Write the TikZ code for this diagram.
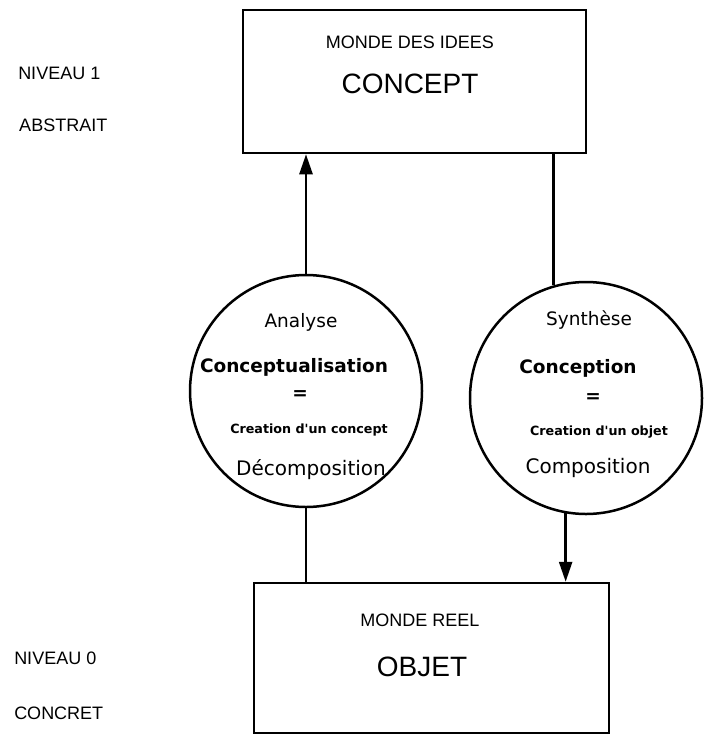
\documentclass[tikz,border=0pt]{standalone}
\usepackage{fontspec}
\setmainfont{Liberation Sans}
\newfontfamily\dv{DejaVu Sans}
\usetikzlibrary{arrows.meta}
\begin{document}
\begin{tikzpicture}[x=1pt,y=-1pt,
  line width=2.5pt,
  boxshape/.style={draw, rectangle, inner sep=0pt},
  circshape/.style={draw, circle, inner sep=0pt, minimum size=232pt},
  boxsmall/.style={inner sep=0pt, font=\fontsize{18}{20}\selectfont},
  boxbig/.style={inner sep=0pt, font=\fontsize{28}{30}\selectfont},
  sidelabel/.style={inner sep=0pt, anchor=west, font=\fontsize{18}{20}\selectfont},
  ctitle/.style={inner sep=0pt, font=\dv\fontsize{18.5}{20}\selectfont},
  cbold/.style={inner sep=0pt, font=\dv\bfseries\fontsize{18.5}{20}\selectfont},
  csmall/.style={inner sep=0pt, font=\dv\bfseries\fontsize{12.7}{14}\selectfont},
  cmid/.style={inner sep=0pt, font=\dv\fontsize{20}{22}\selectfont},
  arr/.style={-{Triangle[length=20pt,width=13pt]}}
]
\useasboundingbox (0,0) rectangle (707,736);

% boxes
\node[boxshape, minimum width=343pt, minimum height=143pt] (top) at (414.5,81.5) {};
\node[boxshape, minimum width=355pt, minimum height=150pt] (bot) at (431.5,658) {};

\node[boxsmall] (t1) at (410,42) {MONDE DES IDEES};
\node[boxbig] (t2) at (410,84) {CONCEPT};
\node[boxsmall] (b1) at (420,620) {MONDE REEL};
\node[boxbig] (b2) at (422,667) {OBJET};

% side labels
\node[sidelabel] (n1) at (17,73) {NIVEAU 1};
\node[sidelabel] (n1b) at (18,125) {ABSTRAIT};
\node[sidelabel] (n0) at (13,658) {NIVEAU 0};
\node[sidelabel] (n0b) at (13,713) {CONCRET};

% circles
\node[circshape] (A) at (306,391) {};
\node[circshape] (S) at (586,398) {};

\node[ctitle] (a1) at (301,322) {Analyse};
\node[cbold] (a2) at (294,367) {Conceptualisation};
\node[cbold] (a3) at (300,395) {=};
\node[csmall] (a4) at (309,430) {Creation d'un concept};
\node[cmid] (a5) at (311,470) {Décomposition};

\node[ctitle] (s1) at (589,320) {Synthèse};
\node[cbold] (s2) at (578,368) {Conception};
\node[cbold] (s3) at (593,398) {=};
\node[csmall] (s4) at (599,432) {Creation d'un objet};
\node[cmid] (s5) at (588,468) {Composition};

% connectors
\draw[arr] (A.north) -- (A.north |- top.south);
\draw (A.south) -- (A.south |- bot.north);
\draw (S.106.5 |- top.south) -- (S.106.5);
\draw[arr] (S.260.6) -- (S.260.6 |- bot.north);
\end{tikzpicture}
\end{document}
